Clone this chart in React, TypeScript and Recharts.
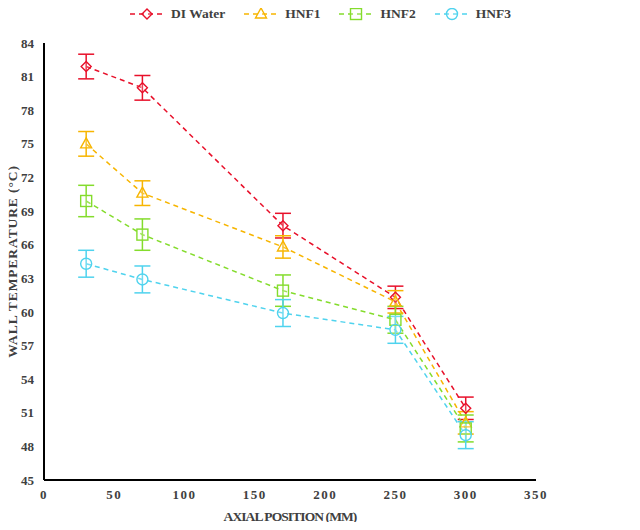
import { LineChart, Line, XAxis, YAxis, ErrorBar } from "recharts";

const positions = [30, 70, 170, 250, 300];

const diWater = [81.9, 80.0, 67.7, 61.3, 51.4];
const hnf1 = [75.0, 70.6, 65.8, 60.9, 50.1];
const hnf2 = [69.9, 66.9, 61.9, 59.3, 49.6];
const hnf3 = [64.3, 62.9, 59.9, 58.4, 49.0];

const diWaterErr = [1.1, 1.1, 1.1, 1.0, 1.0];
const hnf1Err = [1.1, 1.1, 1.0, 1.0, 1.0];
const hnf2Err = [1.4, 1.4, 1.4, 1.2, 1.2];
const hnf3Err = [1.2, 1.2, 1.2, 1.2, 1.2];

const xTicks = [0, 50, 100, 150, 200, 250, 300, 350];
const yTicks = [45, 48, 51, 54, 57, 60, 63, 66, 69, 72, 75, 78, 81, 84];

const data = positions.map((x, i) => ({
  x,
  di: diWater[i],
  diErr: diWaterErr[i],
  h1: hnf1[i],
  h1Err: hnf1Err[i],
  h2: hnf2[i],
  h2Err: hnf2Err[i],
  h3: hnf3[i],
  h3Err: hnf3Err[i],
}));

type Shape = "diamond" | "triangle" | "square" | "circle";

const series: { key: string; err: string; name: string; color: string; shape: Shape }[] = [
  { key: "di", err: "diErr", name: "DI Water", color: "#e8102a", shape: "diamond" },
  { key: "h1", err: "h1Err", name: "HNF1", color: "#f7b500", shape: "triangle" },
  { key: "h2", err: "h2Err", name: "HNF2", color: "#84dc2c", shape: "square" },
  { key: "h3", err: "h3Err", name: "HNF3", color: "#4fd3ee", shape: "circle" },
];

const FONT = "Liberation Serif";
const TEXT = "#404040";

function Marker({ cx, cy, shape, color }: { cx: number; cy: number; shape: Shape; color: string }) {
  const common = { fill: "#fff", fillOpacity: 0.2, stroke: color, strokeWidth: 1.4 };
  if (shape === "diamond")
    return <polygon points={`${cx},${cy - 5} ${cx + 5},${cy} ${cx},${cy + 5} ${cx - 5},${cy}`} {...common} />;
  if (shape === "triangle")
    return <polygon points={`${cx},${cy - 6} ${cx + 5.5},${cy + 4} ${cx - 5.5},${cy + 4}`} {...common} />;
  if (shape === "square") return <rect x={cx - 5.5} y={cy - 5.5} width={11} height={11} {...common} />;
  return <circle cx={cx} cy={cy} r={5.5} {...common} />;
}

function LegendBar() {
  return (
    <div
      style={{
        position: "absolute",
        top: 5,
        left: 0,
        width: 640,
        display: "flex",
        justifyContent: "center",
        gap: 18,
        fontFamily: FONT,
        fontWeight: "bold",
        fontSize: 13.5,
        color: TEXT,
      }}
    >
      {series.map((s) => (
        <div key={s.key} style={{ display: "flex", alignItems: "center" }}>
          <svg width={36} height={18}>
            <line x1={1} y1={9} x2={35} y2={9} stroke={s.color} strokeWidth={1.5} strokeDasharray="5 4" />
            <Marker cx={18} cy={9} shape={s.shape} color={s.color} />
          </svg>
          <span style={{ marginLeft: 6 }}>{s.name}</span>
        </div>
      ))}
    </div>
  );
}

export default function App() {
  const tick = { fontFamily: FONT, fontWeight: "bold", fontSize: 13, fill: TEXT };
  return (
    <div style={{ position: "relative", width: 640, height: 530, margin: -8, background: "#fff" }}>
      <LineChart width={640} height={530} data={data} margin={{ top: 43, right: 104, left: 0, bottom: 0 }}>
        <XAxis
          dataKey="x"
          type="number"
          domain={[0, 350]}
          ticks={xTicks}
          height={50}
          tickLine={false}
          tickMargin={4}
          axisLine={{ stroke: "#000", strokeWidth: 2 }}
          tick={{ ...tick, letterSpacing: 1.5 }}
          label={{
            value: "AXIAL POSITION (MM)",
            position: "insideBottom",
            offset: 9,
            style: { fontFamily: FONT, fontWeight: "bold", fontSize: 13.5, fill: TEXT, letterSpacing: -0.9 },
          }}
        />
        <YAxis
          type="number"
          domain={[45, 84]}
          ticks={yTicks}
          width={44}
          tickLine={false}
          tickMargin={4}
          axisLine={{ stroke: "#000", strokeWidth: 2 }}
          tick={tick}
          label={{
            value: "WALL TEMPERATURE (°C)",
            angle: -90,
            position: "insideLeft",
            offset: 12,
            textAnchor: "middle",
            style: { fontFamily: FONT, fontWeight: "bold", fontSize: 13.5, fill: TEXT, textAnchor: "middle", letterSpacing: 0.9 },
          }}
        />
        {series.map((s) => (
          <Line
            key={s.key}
            dataKey={s.key}
            name={s.name}
            stroke={s.color}
            strokeWidth={1.5}
            strokeDasharray="5 4"
            isAnimationActive={false}
            dot={(p: any) => <Marker key={`${s.key}-${p.index}`} cx={p.cx} cy={p.cy} shape={s.shape} color={s.color} />}
            activeDot={false}
          >
            <ErrorBar dataKey={s.err} direction="y" width={8} stroke={s.color} strokeWidth={1.5} />
          </Line>
        ))}
      </LineChart>
      <LegendBar />
    </div>
  );
}
